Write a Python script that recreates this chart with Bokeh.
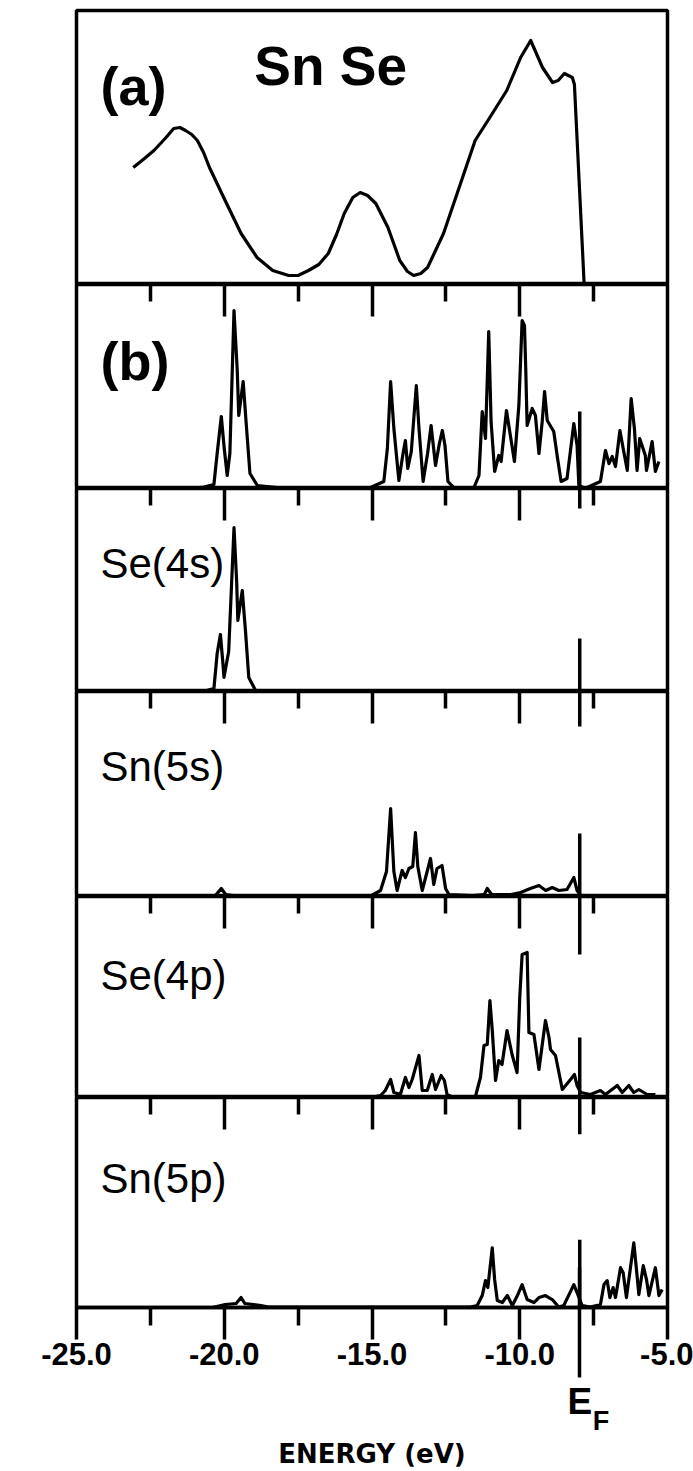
from bokeh.plotting import figure
from bokeh.models import (Range1d, LinearAxis, FixedTicker, Label, PrintfTickFormatter,
                          CustomJSTickFormatter)
from bokeh.layouts import column
from bokeh.embed import file_html
from bokeh.resources import INLINE

# ---------------- data (energies in eV, intensities in arbitrary units) ----------------
EF = -7.97

a_energy = [-23.08, -22.70, -22.38, -22.00, -21.71, -21.50, -21.31, -21.10, -20.91, -20.70,
            -20.50, -19.97, -19.43, -18.89, -18.36, -17.82, -17.50, -17.15, -16.80, -16.48,
            -16.20, -15.94, -15.65, -15.40, -15.15, -14.87, -14.46, -14.06, -13.80, -13.59,
            -13.35, -13.12, -12.58, -12.05, -11.51, -10.97, -10.44, -9.97, -9.63, -9.23,
            -8.89, -8.70, -8.49, -8.22, -8.15, -7.82]
a_xps = [117, 126, 134, 146, 156, 157, 154, 150, 144, 132,
         117, 84, 51, 27, 14, 9, 9, 14, 20, 31,
         50, 71, 87, 92, 89, 81, 57, 24, 13, 9,
         11, 17, 51, 97, 144, 169, 194, 227, 244, 217,
         202, 204, 211, 207, 200, 0]

b_energy = [-21.14, -20.69, -20.35, -20.24, -20.10, -20.00, -19.90, -19.81, -19.67, -19.56,
            -19.51, -19.36, -19.25, -19.13, -18.88, -18.21, -16.5, -15.05, -14.60, -14.48,
            -14.37, -14.26, -14.09, -13.95, -13.87, -13.79, -13.67, -13.56, -13.50, -13.41,
            -13.27, -13.12, -13.00, -12.85, -12.72, -12.62, -12.53, -12.43, -12.23, -11.55,
            -11.38, -11.27, -11.16, -11.05, -10.97, -10.85, -10.71, -10.63, -10.45, -10.18,
            -10.03, -9.92, -9.84, -9.80, -9.75, -9.58, -9.47, -9.35, -9.24, -9.16,
            -9.07, -8.85, -8.72, -8.60, -8.40, -8.17, -8.06, -8.00, -7.85, -7.72,
            -7.27, -7.10, -6.98, -6.87, -6.76, -6.61, -6.50, -6.36, -6.23, -6.12,
            -6.03, -5.94, -5.75, -5.71, -5.52, -5.41, -5.29]
b_total = [0, 1.5, 4, 35, 72, 40, 13, 35, 178, 118,
           73, 107, 62, 15, 3, 1, 1, 1, 7, 40,
           107, 60, 8, 35, 48, 20, 37, 80, 103, 60,
           7, 35, 63, 23, 45, 58, 43, 7, 1, 1,
           13, 77, 50, 157, 67, 17, 33, 27, 78, 27,
           83, 168, 163, 123, 63, 80, 73, 35, 67, 97,
           68, 57, 30, 7, 10, 65, 43, 3, 1, 1,
           7, 38, 25, 32, 22, 58, 40, 18, 90, 60,
           18, 50, 33, 18, 47, 17, 27]

c_energy = [-21.0, -20.6, -20.35, -20.24, -20.13, -20.05, -20.01, -19.85, -19.67, -19.58,
            -19.54, -19.39, -19.28, -19.17, -18.94, -18.6]
c_se4s = [0, 1, 3, 38, 57, 30, 14, 40, 164, 110,
          71, 101, 60, 14, 1, 0]

d_energy = [-20.6, -20.3, -20.1, -19.95, -19.7, -19.4, -17.0, -15.05, -14.71, -14.51,
            -14.37, -14.26, -14.15, -13.98, -13.87, -13.75, -13.62, -13.53, -13.45, -13.30,
            -13.02, -12.91, -12.80, -12.63, -12.51, -12.40, -11.6, -11.2, -11.10, -10.95,
            -10.3, -9.97, -9.64, -9.35, -9.12, -8.90, -8.68, -8.40, -8.17, -8.06, -7.93]
d_sn5s = [0, 1, 8, 2, 1, 0.5, 0.5, 0.5, 6, 25,
          88, 25, 6, 26, 19, 28, 30, 64, 30, 6,
          38, 12, 28, 31, 8, 2, 1, 2, 8, 2,
          2, 4, 8, 11, 6, 9, 6, 7, 19, 6, 1]

e_energy = [-15.05, -14.71, -14.55, -14.37, -14.26, -14.04, -13.87, -13.75, -13.64, -13.41,
            -13.30, -13.13, -12.96, -12.85, -12.66, -12.55, -12.46, -12.28, -11.50, -11.33,
            -11.21, -11.10, -11.01, -10.93, -10.82, -10.71, -10.60, -10.43, -10.26, -10.09,
            -10.00, -9.92, -9.75, -9.69, -9.52, -9.35, -9.13, -9.01, -8.96, -8.79,
            -8.56, -8.28, -8.15, -8.06, -7.94, -7.61, -7.27, -7.10, -6.70, -6.53,
            -6.31, -6.14, -5.97, -5.69, -5.41]
e_se4p = [0, 2, 7, 18, 5, 3, 20, 10, 18, 42,
          7, 7, 23, 8, 22, 17, 3, 0.5, 1, 20,
          52, 53, 97, 67, 17, 37, 33, 67, 43, 25,
          100, 143, 145, 65, 63, 28, 77, 60, 48, 42,
          8, 18, 23, 12, 5, 3, 7, 3, 12, 5,
          12, 5, 8, 3, 3]

f_energy = [-20.4, -19.97, -19.6, -19.43, -19.3, -18.76, -18.5, -11.67, -11.44, -11.27,
            -11.16, -11.08, -10.93, -10.85, -10.76, -10.59, -10.42, -10.25, -10.08, -9.92,
            -9.75, -9.52, -9.35, -9.13, -8.90, -8.68, -8.51, -8.30, -8.17, -8.06,
            -7.89, -7.61, -7.27, -7.15, -7.04, -6.95, -6.84, -6.76, -6.59, -6.50,
            -6.39, -6.14, -6.03, -5.97, -5.82, -5.71, -5.63, -5.41, -5.29, -5.18]
f_sn5p = [0, 3, 4, 10, 4, 2, 0.5, 0.5, 2, 12,
          27, 20, 60, 28, 7, 5, 12, 2, 12, 23,
          8, 5, 10, 12, 8, 0.5, 2, 15, 23, 15,
          2, 0.5, 3, 23, 27, 10, 20, 10, 40, 35,
          10, 65, 32, 13, 42, 28, 12, 40, 12, 18]

panel_labels = ["(b)", "Se(4s)", "Sn(5s)", "Se(4p)", "Sn(5p)"]
panel_label_y = [128, 128, 130, 122, 130]
panel_heights = [204, 203, 205, 201, 211]
ef_top_len = [0, 20, 35, 58, 37]
ef_bottom_len = [77, 53, 63, 60, 68]

major_ticks = [-20, -15, -10]
minor_ticks = [-22.5, -17.5, -12.5, -7.5]
bottom_major = [-25, -20, -15, -10, -5]

W = 693
LEFT, RIGHT = 76, 26
LW = 3.2
TW = 3.5
FONT = "Liberation Sans"
xr = Range1d(-25, -5)
blank = CustomJSTickFormatter(code="return '';")


def make_fig(height, frame_h, top=0, bottom=0):
    p = figure(width=W, height=height, x_range=xr, y_range=Range1d(0, frame_h),
               output_backend="svg", toolbar_location=None,
               x_axis_location=None, y_axis_location=None,
               min_border_left=LEFT, min_border_right=RIGHT,
               min_border_top=top, min_border_bottom=bottom)
    p.grid.visible = False
    p.outline_line_color = "black"
    p.outline_line_width = 3.5
    p.background_fill_color = "white"
    p.border_fill_color = "white"
    return p


def top_ticks(p):
    ax = LinearAxis(ticker=FixedTicker(ticks=major_ticks, minor_ticks=minor_ticks),
                    formatter=blank,
                    major_tick_in=32, major_tick_out=0, minor_tick_in=17, minor_tick_out=0,
                    major_tick_line_width=TW, minor_tick_line_width=TW,
                    major_tick_line_color="black", minor_tick_line_color="black",
                    axis_line_color=None, major_label_text_font_size="1px",
                    major_label_standoff=0)
    p.add_layout(ax, "above")


def add_label(p, x, y, text, size, bold):
    p.add_layout(Label(x=x, y=y, text=text, text_align="left", text_baseline="middle",
                       text_font=FONT, text_font_size=size, text_color="black",
                       text_font_style=("bold" if bold else "normal")))


figs = []

# panel (a)
pa = make_fig(284, 274, top=10)
pa.line(a_energy, a_xps, line_width=LW, color="black", line_join="round")
add_label(pa, -24.19, 199, "(a)", "54px", True)
pa.add_layout(Label(x=-16.40, y=219, text="Sn Se", text_align="center", text_baseline="middle",
                    text_font=FONT, text_font_size="55px", text_font_style="bold",
                    text_color="black"))
figs.append(pa)

series = [(b_energy, b_total), (c_energy, c_se4s), (d_energy, d_sn5s),
          (e_energy, e_se4p), (f_energy, f_sn5p)]

for i, (ex, ey) in enumerate(series):
    fh = panel_heights[i]
    last = i == len(series) - 1
    p = make_fig(fh + (163 if last else 0), fh, bottom=(163 if last else 0))
    top_ticks(p)
    p.line(ex, ey, line_width=LW, color="black", line_join="round")
    if ef_top_len[i] > 0:
        p.segment(x0=[EF], y0=[fh], x1=[EF], y1=[fh - ef_top_len[i]], line_width=TW, color="black")
    p.segment(x0=[EF], y0=[0], x1=[EF], y1=[ef_bottom_len[i]], line_width=TW, color="black")
    bold = i == 0
    add_label(p, -24.19, panel_label_y[i], panel_labels[i], ("54px" if bold else "42px"), bold)
    if last:
        ax1 = LinearAxis(ticker=FixedTicker(ticks=bottom_major, minor_ticks=minor_ticks),
                         formatter=PrintfTickFormatter(format="%.1f"),
                         major_tick_in=0, major_tick_out=32, minor_tick_in=0, minor_tick_out=18,
                         major_tick_line_width=TW, minor_tick_line_width=TW,
                         major_tick_line_color="black", minor_tick_line_color="black",
                         axis_line_width=3.5, axis_line_color="black",
                         major_label_standoff=3,
                         major_label_text_font=FONT,
                         major_label_text_font_size="31px",
                         major_label_text_font_style="bold",
                         major_label_text_color="black")
        ax2 = LinearAxis(ticker=FixedTicker(ticks=[EF], minor_ticks=[]),
                         formatter=CustomJSTickFormatter(code="return 'E';"),
                         major_tick_in=100, major_tick_out=10, minor_tick_in=0, minor_tick_out=0,
                         major_tick_line_width=TW, major_tick_line_color="black",
                         axis_line_color=None, major_label_standoff=3,
                         major_label_text_font=FONT, major_label_text_font_size="37px",
                         major_label_text_font_style="bold", major_label_text_color="black")
        ax3 = LinearAxis(ticker=FixedTicker(ticks=[EF + 0.72], minor_ticks=[]),
                         formatter=CustomJSTickFormatter(code="return 'F';"),
                         major_tick_in=0, major_tick_out=0, minor_tick_in=0, minor_tick_out=0,
                         major_tick_line_color=None, axis_line_color=None,
                         major_label_standoff=-19,
                         major_label_text_font=FONT, major_label_text_font_size="27px",
                         major_label_text_font_style="bold", major_label_text_color="black",
                         axis_label="ENERGY (eV)", axis_label_standoff=0,
                         axis_label_text_font="DejaVu Sans", axis_label_text_font_size="26px",
                         axis_label_text_font_style="bold", axis_label_text_color="black")
        p.add_layout(ax1, "below")
        p.add_layout(ax2, "below")
        p.add_layout(ax3, "below")
    figs.append(p)

layout = column(*figs, spacing=0)
open("out.html", "w").write(file_html(layout, INLINE))
